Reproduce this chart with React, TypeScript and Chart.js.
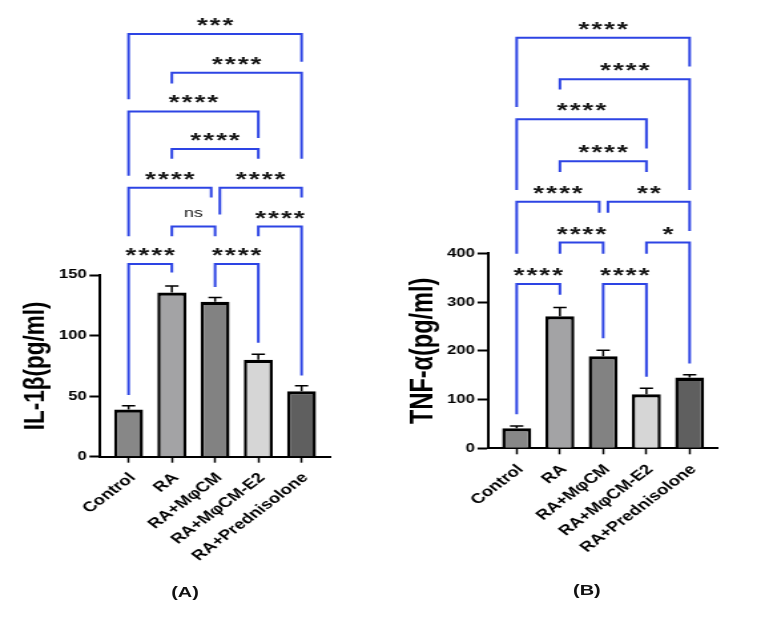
import { useEffect, useRef } from "react";
import { Chart, registerables } from "chart.js";

Chart.register(...registerables);
Chart.defaults.font.family = "'Liberation Sans', Arial, sans-serif";

// Treatment groups shared by both panels
const groups = ["Control", "RA", "RA+MφCM", "RA+MφCM-E2", "RA+Prednisolone"];
const barColors = ["#878787", "#a3a3a5", "#828282", "#d6d6d6", "#5f5f5f"];

// IL-1β (pg/ml): mean and SEM per group
const il1bMean = [39, 135.5, 128, 80, 54];
const il1bSem = [3, 5.5, 3.5, 4.5, 4.5];
const il1bTicks = [0, 50, 100, 150];

// TNF-α (pg/ml): mean and SEM per group
const tnfMean = [41, 271, 189, 111, 145];
const tnfSem = [5, 18, 12, 12, 6];
const tnfTicks = [0, 100, 200, 300, 400];

// Pairwise comparisons: group positions, bracket height and leg ends (data units), significance
type Bracket = { from: number; to: number; level: number; ends: [number, number]; label: string };

const il1bBrackets: Bracket[] = [
  { from: 0, to: 4, level: 349, ends: [295, 326], label: "***" },
  { from: 1, to: 4, level: 317, ends: [308, 246], label: "****" },
  { from: 0, to: 3, level: 285, ends: [232, 263], label: "****" },
  { from: 1, to: 3, level: 254, ends: [246, 246], label: "****" },
  { from: 0, to: 1.91, level: 222, ends: [182, 214], label: "****" },
  { from: 2.11, to: 4, level: 222, ends: [200, 214], label: "****" },
  { from: 1, to: 2, level: 190, ends: [182, 182], label: "ns" },
  { from: 3, to: 4, level: 190, ends: [182, 67], label: "****" },
  { from: 0, to: 1, level: 159, ends: [51, 152], label: "****" },
  { from: 2, to: 3, level: 159, ends: [140, 94], label: "****" },
];

const tnfBrackets: Bracket[] = [
  { from: 0, to: 4, level: 842, ends: [700, 783], label: "****" },
  { from: 1, to: 4, level: 757, ends: [736, 530], label: "****" },
  { from: 0, to: 3, level: 675, ends: [530, 615], label: "****" },
  { from: 1, to: 3, level: 589, ends: [567, 567], label: "****" },
  { from: 0, to: 1.91, level: 506, ends: [399, 483], label: "****" },
  { from: 2.11, to: 4, level: 506, ends: [483, 446], label: "**" },
  { from: 1, to: 2, level: 422, ends: [399, 399], label: "****" },
  { from: 3, to: 4, level: 422, ends: [399, 174], label: "*" },
  { from: 0, to: 1, level: 337, ends: [70, 315], label: "****" },
  { from: 2, to: 3, level: 337, ends: [226, 147], label: "****" },
];

type PanelProps = {
  width: number;
  height: number;
  means: number[];
  sems: number[];
  ticks: number[];
  brackets: Bracket[];
  title: string;
  titleSize: number;
  pad: { left: number; right: number; top: number };
  yWidth: number;
  xHeight: number;
};

function Panel(p: PanelProps) {
  const ref = useRef<HTMLCanvasElement | null>(null);

  useEffect(() => {
    if (!ref.current) return;

    const errorBars = {
      id: "errorBars",
      afterDatasetsDraw(chart: any) {
        const { ctx } = chart;
        const { x, y } = chart.scales;
        ctx.save();
        ctx.strokeStyle = "#000";
        ctx.lineWidth = 1.5;
        p.means.forEach((m, i) => {
          const px = x.getPixelForValue(i);
          const y0 = y.getPixelForValue(m);
          const y1 = y.getPixelForValue(m + p.sems[i]);
          ctx.beginPath();
          ctx.moveTo(px, y0);
          ctx.lineTo(px, y1);
          ctx.moveTo(px - 5, y1);
          ctx.lineTo(px + 5, y1);
          ctx.stroke();
        });
        ctx.restore();
      },
    };

    const sigBrackets = {
      id: "sigBrackets",
      afterDraw(chart: any) {
        const { ctx } = chart;
        const { x, y } = chart.scales;
        ctx.save();
        p.brackets.forEach((b) => {
          const xl = x.getPixelForValue(b.from);
          const xr = x.getPixelForValue(b.to);
          const yl = y.getPixelForValue(b.level);
          ctx.strokeStyle = "#2d44e4";
          ctx.lineWidth = 2;
          ctx.lineJoin = "miter";
          ctx.beginPath();
          ctx.moveTo(xl, y.getPixelForValue(b.ends[0]));
          ctx.lineTo(xl, yl);
          ctx.lineTo(xr, yl);
          ctx.lineTo(xr, y.getPixelForValue(b.ends[1]));
          ctx.stroke();

          const isNs = b.label === "ns";
          const spacing = isNs ? 0 : 1.5;
          ctx.font = isNs
            ? "13.5px 'Liberation Sans', Arial, sans-serif"
            : "bold 21px 'Liberation Sans', Arial, sans-serif";
          (ctx as any).letterSpacing = `${spacing}px`;
          ctx.fillStyle = "#151515";
          ctx.textAlign = "center";
          ctx.textBaseline = "alphabetic";
          const m = ctx.measureText(b.label);
          const cy = yl - (isNs ? 13 : 12);
          const base = cy + (m.actualBoundingBoxAscent - m.actualBoundingBoxDescent) / 2;
          ctx.fillText(b.label, (xl + xr) / 2 + spacing / 2, base);
        });
        ctx.restore();
      },
    };

    const chart = new Chart(ref.current, {
      type: "bar",
      data: {
        datasets: [
          {
            data: p.means.map((v, i) => ({ x: i, y: v })),
            backgroundColor: barColors,
            borderColor: "#000",
            borderWidth: { top: 3.3, left: 2.5, right: 2.5, bottom: 0 },
            borderSkipped: "start",
            categoryPercentage: 1,
            barPercentage: 0.67,
          } as any,
        ],
      },
      options: {
        responsive: false,
        animation: false,
        devicePixelRatio: 1,
        layout: { padding: { left: p.pad.left, right: p.pad.right, top: p.pad.top, bottom: 0 } },
        plugins: { legend: { display: false }, tooltip: { enabled: false } },
        scales: {
          x: {
            type: "linear",
            offset: false,
            min: -0.66,
            max: 4.66,
            afterBuildTicks: (s: any) => {
              s.ticks = groups.map((_, i) => ({ value: i }));
            },
            afterFit: (s: any) => {
              s.height = p.xHeight;
            },
            grid: {
              offset: false,
              drawOnChartArea: false,
              drawTicks: true,
              tickLength: 6,
              tickWidth: 1.5,
              tickColor: "#000",
            },
            border: { display: true, color: "#000", width: 2 },
            ticks: {
              autoSkip: false,
              minRotation: 45,
              maxRotation: 45,
              padding: 7,
              labelOffset: 3,
              color: "#000",
              font: { size: 14, weight: "bold" },
              callback: (v: any) => groups[v as number] ?? "",
            },
          },
          y: {
            min: 0,
            max: p.ticks[p.ticks.length - 1],
            afterBuildTicks: (s: any) => {
              s.ticks = p.ticks.map((v) => ({ value: v }));
            },
            afterFit: (s: any) => {
              s.width = p.yWidth;
            },
            grid: { drawOnChartArea: false, drawTicks: true, tickLength: 8, tickWidth: 2, tickColor: "#000" },
            border: { display: true, color: "#000", width: 2 },
            ticks: { padding: 2, color: "#000", font: { size: 12.5, weight: "bold" } },
            title: {
              display: true,
              text: p.title,
              color: "#000",
              font: { size: p.titleSize, weight: "bold" },
              padding: { top: 4, bottom: 4 },
            },
          },
        },
      } as any,
      plugins: [errorBars, sigBrackets],
    });

    return () => chart.destroy();
  }, []);

  return <canvas ref={ref} width={p.width} height={p.height} style={{ display: "block" }} />;
}

// The figure is laid out on a 575px-wide sheet and widened to fill the 765px view
const SHEET_W = 575;
const VIEW_W = 765;
const SHEET_H = 618;

const panelLabel = (text: string, cx: number, cy: number) => (
  <div
    style={{
      position: "absolute",
      left: cx - 30,
      top: cy - 9,
      width: 60,
      lineHeight: "18px",
      textAlign: "center",
      fontFamily: "'Liberation Sans', Arial, sans-serif",
      fontWeight: "bold",
      fontSize: 15,
      color: "#111",
    }}
  >
    {text}
  </div>
);

export default function App() {
  return (
    <div
      style={{
        position: "absolute",
        left: 0,
        top: 0,
        width: SHEET_W,
        height: SHEET_H,
        background: "#fff",
        transform: `scaleX(${VIEW_W / SHEET_W})`,
        transformOrigin: "0 0",
      }}
    >
      <div style={{ position: "absolute", left: 0, top: 0 }}>
        <Panel
          width={287}
          height={SHEET_H}
          means={il1bMean}
          sems={il1bSem}
          ticks={il1bTicks}
          brackets={il1bBrackets}
          title="IL-1β(pg/ml)"
          titleSize={22.5}
          pad={{ left: 9, right: 38.9, top: 275 }}
          yWidth={66.2}
          xHeight={161.3}
        />
      </div>
      <div style={{ position: "absolute", left: 287, top: 0 }}>
        <Panel
          width={288}
          height={SHEET_H}
          means={tnfMean}
          sems={tnfSem}
          ticks={tnfTicks}
          brackets={tnfBrackets}
          title="TNF-α(pg/ml)"
          titleSize={23.5}
          pad={{ left: 13.5, right: 35.2, top: 253.3 }}
          yWidth={66.4}
          xHeight={169.7}
        />
      </div>
      {panelLabel("(A)", 139.1, 592)}
      {panelLabel("(B)", 441.1, 590)}
    </div>
  );
}
